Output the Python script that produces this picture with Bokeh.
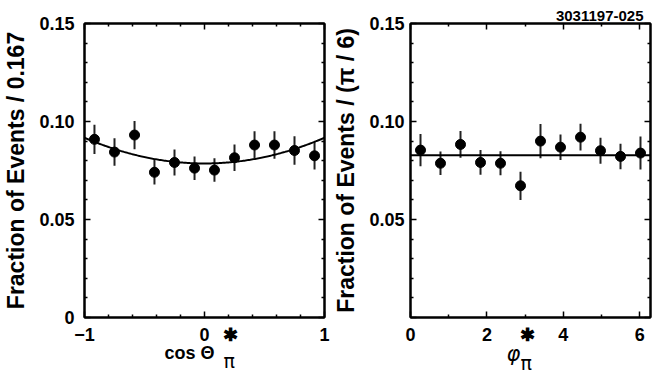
import math
import numpy as np
from bokeh.plotting import figure
from bokeh.layouts import row
from bokeh.models import FixedTicker, LinearAxis, Range1d, Span, Title
from bokeh.embed import file_html
from bokeh.resources import INLINE

# ---------------- data: left panel (cos theta*_pi) ----------------
cos_centers = [-0.917, -0.75, -0.583, -0.417, -0.25, -0.083, 0.083, 0.25, 0.417, 0.583, 0.75, 0.917]
cos_frac = [0.0909, 0.0844, 0.0931, 0.0741, 0.0791, 0.0762, 0.0752, 0.0815, 0.0880, 0.0880, 0.0852, 0.0825]
cos_err = [0.0075, 0.0070, 0.0072, 0.0063, 0.0066, 0.0060, 0.0060, 0.0068, 0.0070, 0.0070, 0.0073, 0.0070]
fit_norm = 0.0786      # fit: norm * (1 + fit_b * cos^2)
fit_b = 0.167

# ---------------- data: right panel (phi*_pi) ----------------
phi_centers = [0.262, 0.785, 1.309, 1.833, 2.356, 2.880, 3.403, 3.927, 4.451, 4.974, 5.498, 6.021]
phi_frac = [0.0854, 0.0787, 0.0883, 0.0791, 0.0787, 0.0672, 0.0900, 0.0869, 0.0920, 0.0851, 0.0822, 0.0839]
phi_err = [0.0082, 0.0060, 0.0068, 0.0063, 0.0061, 0.0072, 0.0087, 0.0065, 0.0068, 0.0066, 0.0065, 0.0084]
phi_flat = 0.0828

# ---------------- ticks ----------------
y_major = [0, 0.05, 0.1, 0.15]
y_minor = [0.01, 0.02, 0.03, 0.04, 0.06, 0.07, 0.08, 0.09, 0.11, 0.12, 0.13, 0.14]
y_labels_left = ["0", "0.05", "0.10", "0.15"]
y_labels_right = ["", "0.05", "0.10", "0.15"]
cos_major = [-1, 0, 1]
cos_minor = [-0.8, -0.6, -0.4, -0.2, 0.2, 0.4, 0.6, 0.8]
cos_labels = ["\u22121", "0", "1"]
phi_major = [0, 2, 4, 6]
phi_minor = [1, 3, 5]
phi_labels = ["0", "2", "4", "6"]

FONT = "Liberation Sans"
STAR = "\u2731"


def style_axis(ax, size, standoff, ticks=True):
    ax.axis_line_width = 2
    ax.axis_line_color = "black" if ticks else None
    ax.major_tick_in = 6 if ticks else 0
    ax.major_tick_out = 0
    ax.minor_tick_in = 3 if ticks else 0
    ax.minor_tick_out = 0
    ax.major_tick_line_width = 1.5
    ax.minor_tick_line_width = 1.5
    ax.major_tick_line_color = "black" if ticks else None
    ax.minor_tick_line_color = "black" if ticks else None
    ax.major_label_text_font = FONT
    ax.major_label_text_font_style = "bold"
    ax.major_label_text_color = "black"
    ax.major_label_text_font_size = size
    ax.major_label_standoff = standoff


def make_panel(x_rng, xmaj, xmin, xlabs, star_x, ylabs, ylabel, bl, br, ystand, ylab_stand):
    p = figure(frame_width=240, frame_height=294,
               x_range=Range1d(*x_rng), y_range=Range1d(0, 0.15),
               output_backend="svg", toolbar_location=None,
               min_border_left=bl, min_border_right=br,
               min_border_top=23, min_border_bottom=64)
    p.xgrid.visible = False
    p.ygrid.visible = False
    p.outline_line_color = "black"
    p.outline_line_width = 2
    p.background_fill_color = "white"
    p.border_fill_color = "white"

    xt = FixedTicker(ticks=xmaj, minor_ticks=xmin)
    yt = FixedTicker(ticks=y_major, minor_ticks=y_minor)

    # bottom: tick marks only
    xa = p.below[0]
    xa.ticker = xt
    style_axis(xa, "1px", 0)
    xa.major_label_overrides = {float(v): "" for v in xmaj}

    # bottom: tick labels (+ superscript star of the axis title)
    xl = LinearAxis(ticker=FixedTicker(ticks=list(xmaj) + [star_x], minor_ticks=[]))
    style_axis(xl, "18px", 7, ticks=False)
    over = {float(v): s for v, s in zip(xmaj, xlabs)}
    over[float(star_x)] = STAR
    xl.major_label_overrides = over
    p.add_layout(xl, "below")

    ya = p.left[0]
    ya.ticker = yt
    style_axis(ya, "18px", ystand)
    ya.major_label_overrides = {float(v): s for v, s in zip(y_major, ylabs)}
    ya.axis_label = ylabel
    ya.axis_label_text_font = FONT
    ya.axis_label_text_font_style = "bold"
    ya.axis_label_text_font_size = "23px"
    ya.axis_label_text_color = "black"
    ya.axis_label_standoff = ylab_stand

    top = LinearAxis(ticker=xt)
    style_axis(top, "1px", 0)
    top.major_label_overrides = {float(v): "" for v in xmaj}
    p.add_layout(top, "above")
    right = LinearAxis(ticker=yt)
    style_axis(right, "1px", 0)
    right.major_label_overrides = {float(v): "" for v in y_major}
    p.add_layout(right, "right")
    return p


def add_title(p, text, place, offset, standoff, font, size, style):
    p.add_layout(Title(text=text, align="left", vertical_align="top", offset=offset,
                       standoff=standoff, text_font=font, text_font_size=size,
                       text_font_style=style, text_color="black"), place)


# ---------------- left panel ----------------
p1 = make_panel((-1, 1), cos_major, cos_minor, cos_labels, 0.2125, y_labels_left,
                "Fraction of Events / 0.167", 82, 6, 10, 7)
lo1 = [v - e for v, e in zip(cos_frac, cos_err)]
hi1 = [v + e for v, e in zip(cos_frac, cos_err)]
p1.segment(x0=cos_centers, y0=lo1, x1=cos_centers, y1=hi1, line_color="#222222", line_width=2)
xs_fit = np.linspace(-1, 1, 201)
p1.line(xs_fit, fit_norm * (1 + fit_b * xs_fit ** 2), line_color="black", line_width=2)
p1.scatter(cos_centers, cos_frac, size=10, color="black")
add_title(p1, "cos \u0398", "below", 80, -10, FONT, "18px", "bold")
add_title(p1, "\u03c0", "below", 139, -19, "DejaVu Sans", "19px", "normal")

# ---------------- right panel ----------------
p2 = make_panel((0, 2 * math.pi), phi_major, phi_minor, phi_labels, 3.063, y_labels_right,
                "Fraction of Events / (\u03c0 / 6)", 79, 9, 6, 7)
lo2 = [v - e for v, e in zip(phi_frac, phi_err)]
hi2 = [v + e for v, e in zip(phi_frac, phi_err)]
p2.segment(x0=phi_centers, y0=lo2, x1=phi_centers, y1=hi2, line_color="#222222", line_width=2)
p2.add_layout(Span(location=phi_flat, dimension="width", line_color="black", line_width=2))
p2.scatter(phi_centers, phi_frac, size=10, color="black")
add_title(p2, "\u03c6", "below", 96, -12, "DejaVu Sans", "21px", "italic")
add_title(p2, "\u03c0", "below", 110, -20, "DejaVu Sans", "19px", "normal")

p2.add_layout(Title(text="3031197-025", align="right", vertical_align="top", offset=7,
                    standoff=2, text_font=FONT, text_font_style="bold",
                    text_font_size="15px", text_color="black"), "above")

layout = row(p1, p2, spacing=0)
open("out.html", "w").write(file_html(layout, INLINE))
